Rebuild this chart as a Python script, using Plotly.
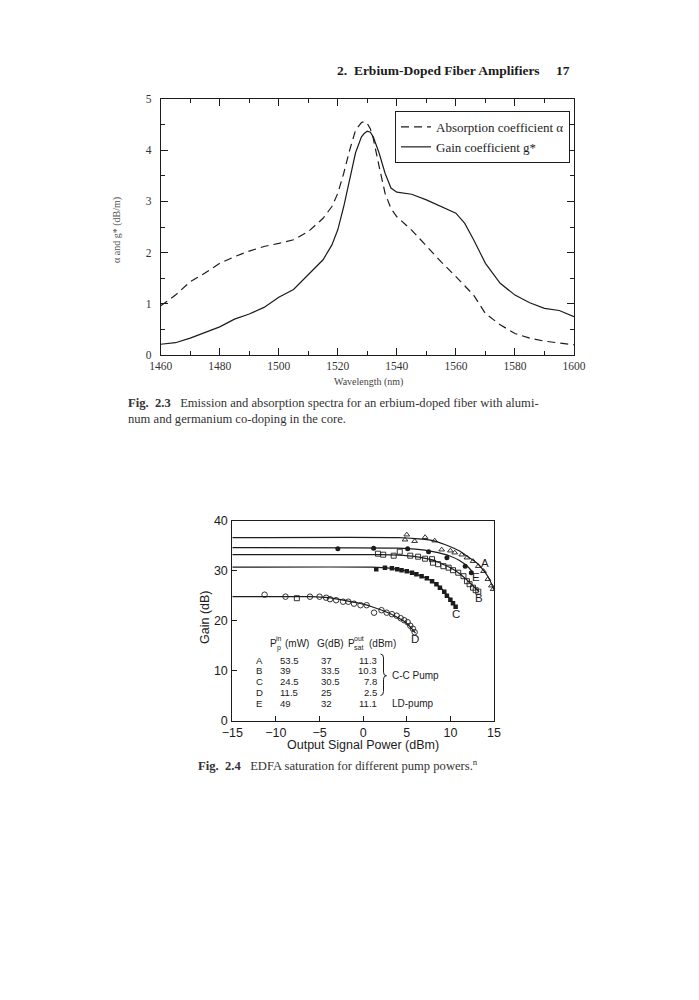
import plotly.graph_objects as go

# The page body adds an 8 px margin, so the figure is drawn 8 px smaller and all
# layout positions (measured on the reference page) are shifted by that offset.
OFF = 8
W, H = 699 - OFF, 1000 - OFF

# ---------------- Fig 2.3 data ----------------
wavelength = [1460, 1465, 1470, 1475, 1480, 1485, 1490, 1495, 1500, 1505, 1510, 1515, 1518,
              1520, 1522, 1524, 1526, 1528, 1529, 1530, 1531, 1532, 1534, 1536, 1538, 1540,
              1545, 1550, 1555, 1560, 1563, 1566, 1570, 1575, 1580, 1585, 1590, 1595, 1600]
gain_coeff = [0.21, 0.24, 0.33, 0.44, 0.55, 0.70, 0.80, 0.93, 1.13, 1.28, 1.56, 1.86, 2.15,
              2.45, 2.90, 3.45, 3.95, 4.26, 4.33, 4.37, 4.35, 4.26, 3.94, 3.55, 3.26, 3.18,
              3.14, 3.03, 2.90, 2.77, 2.57, 2.25, 1.79, 1.40, 1.17, 1.02, 0.91, 0.87, 0.75]
absorption_coeff = [0.96, 1.17, 1.43, 1.60, 1.79, 1.92, 2.03, 2.12, 2.18, 2.25, 2.41, 2.67, 2.90,
                    3.16, 3.55, 4.00, 4.39, 4.54, 4.56, 4.52, 4.42, 4.23, 3.68, 3.16, 2.86, 2.70,
                    2.44, 2.12, 1.82, 1.53, 1.35, 1.17, 0.81, 0.59, 0.42, 0.33, 0.27, 0.23, 0.20]

# ---------------- Fig 2.4 data ----------------
# fitted curves
A_x = [-15, 4, 6, 8, 10, 11, 12, 13, 14, 14.5, 15]
A_y = [36.6, 36.6, 36.4, 36.0, 34.8, 34.0, 32.8, 31.6, 29.6, 28.2, 26.2]
E_x = [-15, 4, 6, 8, 10, 11, 12, 12.6]
E_y = [34.6, 34.5, 34.3, 33.8, 32.9, 32.1, 30.8, 29.6]
B_x = [-15, 2, 4, 6, 8, 9, 10, 11, 12, 12.7, 13.3]
B_y = [33.2, 33.2, 33.1, 32.8, 32.1, 31.4, 30.6, 29.5, 28.0, 26.8, 25.8]
C_x = [-15, 1, 3, 5, 6, 7, 8, 9, 10, 10.7]
C_y = [30.7, 30.7, 30.5, 29.9, 29.3, 28.7, 27.8, 26.4, 24.3, 22.6]
D_x = [-15, -6, -4, -2, 0, 1, 2, 3, 4, 5, 6]
D_y = [24.8, 24.8, 24.6, 24.0, 23.3, 22.8, 22.2, 21.5, 20.6, 19.5, 17.5]

# measured points
A_px = [5.0, 4.8, 5.9, 7.1, 8.2, 9.0, 10.0, 10.5, 11.3, 11.9, 12.6, 13.2, 13.8, 14.3, 14.7, 14.9]
A_py = [37.2, 36.2, 35.9, 36.7, 36.0, 34.2, 34.0, 33.6, 33.2, 32.6, 31.9, 30.9, 29.9, 28.3, 27.0, 26.3]
E_px = [-2.9, 1.2, 5.1, 7.5, 9.6, 11.7, 12.4]
E_py = [34.4, 34.5, 34.4, 33.8, 32.6, 30.9, 29.6]
B_px = [1.7, 2.3, 3.5, 4.2, 5.4, 6.3, 7.1, 7.9, 8.0, 8.6, 9.2, 9.8, 10.3, 10.9, 11.5, 11.9, 12.2, 12.6, 12.9, 13.2]
B_py = [33.4, 33.2, 33.0, 33.8, 33.0, 32.8, 32.4, 32.3, 31.6, 31.3, 30.9, 30.6, 30.1, 29.6, 28.9, 27.9, 27.3, 26.6, 26.1, 25.8]
C_px = [1.5, 2.5, 3.3, 3.9, 4.4, 5.0, 5.6, 6.1, 6.7, 7.3, 7.9, 8.4, 8.8, 9.3, 9.6, 10.0, 10.3, 10.6]
C_py = [30.3, 30.6, 30.5, 30.3, 30.1, 29.9, 29.6, 29.3, 28.9, 28.5, 27.9, 27.3, 26.6, 25.8, 25.0, 24.2, 23.5, 22.8]
D_px = [-11.3, -8.9, -6.1, -5.0, -4.25, -3.8, -3.1, -2.3, -1.7, -1.05, -0.3, 0.4, 1.25, 2.1, 2.7, 3.3, 3.85, 4.3, 4.7, 5.1, 5.4, 5.7, 5.9]
D_py = [25.2, 24.8, 24.8, 24.8, 24.6, 24.3, 24.1, 23.8, 23.8, 23.4, 23.1, 23.1, 21.6, 22.1, 21.6, 21.3, 21.0, 20.5, 20.1, 19.7, 19.0, 18.4, 17.7]
Dsq_px = [-7.6]
Dsq_py = [24.5]

table_letters = ["A", "B", "C", "D", "E"]
table_pump = ["53.5", "39", "24.5", "11.5", "49"]
table_gain = ["37", "33.5", "30.5", "25", "32"]
table_psat = ["11.3", "10.3", "7.8", "2.5", "11.1"]

INK = "#1c1c1c"
SERIF = "Liberation Serif"
SANS = "Liberation Sans"


def px(x):
    return (x - OFF) / W


def py(y):
    return 1 - (y - OFF) / H


fig = go.Figure()

# ---- Fig 2.3 traces ----
fig.add_trace(go.Scatter(x=wavelength, y=absorption_coeff, mode="lines",
                         name="Absorption coefficient \u03b1",
                         line=dict(color=INK, width=1.2, dash="8px,5px"),
                         xaxis="x", yaxis="y"))
fig.add_trace(go.Scatter(x=wavelength, y=gain_coeff, mode="lines",
                         name="Gain coefficient g*",
                         line=dict(color=INK, width=1.2),
                         xaxis="x", yaxis="y"))

# ---- Fig 2.4 traces ----
for xs, ys in [(A_x, A_y), (E_x, E_y), (B_x, B_y), (C_x, C_y), (D_x, D_y)]:
    fig.add_trace(go.Scatter(x=xs, y=ys, mode="lines",
                             line=dict(color=INK, width=1.2, shape="spline", smoothing=0.6),
                             showlegend=False, xaxis="x2", yaxis="y2", hoverinfo="skip"))

fig.add_trace(go.Scatter(x=A_px, y=A_py, mode="markers", showlegend=False, xaxis="x2", yaxis="y2",
                         marker=dict(symbol="triangle-up-open", size=5, color=INK, line=dict(color=INK, width=0.9))))
fig.add_trace(go.Scatter(x=E_px, y=E_py, mode="markers", showlegend=False, xaxis="x2", yaxis="y2",
                         marker=dict(symbol="circle", size=5, color=INK)))
fig.add_trace(go.Scatter(x=B_px, y=B_py, mode="markers", showlegend=False, xaxis="x2", yaxis="y2",
                         marker=dict(symbol="square-open", size=5, color=INK, line=dict(color=INK, width=0.9))))
fig.add_trace(go.Scatter(x=C_px, y=C_py, mode="markers", showlegend=False, xaxis="x2", yaxis="y2",
                         marker=dict(symbol="square", size=4.5, color=INK)))
fig.add_trace(go.Scatter(x=D_px, y=D_py, mode="markers", showlegend=False, xaxis="x2", yaxis="y2",
                         marker=dict(symbol="circle-open", size=5.5, color=INK, line=dict(color=INK, width=0.9))))
fig.add_trace(go.Scatter(x=Dsq_px, y=Dsq_py, mode="markers", showlegend=False, xaxis="x2", yaxis="y2",
                         marker=dict(symbol="square-open", size=5, color=INK, line=dict(color=INK, width=0.9))))

ax1_common = dict(showline=True, linecolor=INK, linewidth=1, mirror="ticks", ticks="inside",
                  tickcolor=INK, showgrid=False, zeroline=False, automargin=False,
                  tickfont=dict(family=SERIF, size=11.5, color="#333"))
ax2_common = dict(showline=True, linecolor=INK, linewidth=1, mirror=True, ticks="inside",
                  tickcolor=INK, ticklen=5, showgrid=False, zeroline=False, automargin=False,
                  tickfont=dict(family=SANS, size=12.5, color=INK))

fig.update_layout(
    template="none",
    width=W, height=H, margin=dict(l=0, r=0, t=0, b=0, pad=0),
    paper_bgcolor="white", plot_bgcolor="white",
    xaxis=dict(domain=[px(160.7), px(574)], range=[1460, 1600], anchor="y",
               tick0=1460, dtick=20, ticklen=7,
               minor=dict(ticks="inside", dtick=10, ticklen=4, tickcolor=INK), **ax1_common),
    yaxis=dict(domain=[py(355), py(99)], range=[0, 5], anchor="x",
               tick0=0, dtick=1, ticklen=7, ticklabelstandoff=6,
               minor=dict(ticks="inside", dtick=0.5, ticklen=4, tickcolor=INK), **ax1_common),
    xaxis2=dict(domain=[px(232.3), px(494)], range=[-15, 15], anchor="y2",
                tick0=-15, dtick=5, ticklabelstandoff=0, **ax2_common),
    yaxis2=dict(domain=[py(720.7), py(520.7)], range=[0, 40], anchor="x2",
                tick0=0, dtick=10, ticklabelstandoff=1, **ax2_common),
    legend=dict(x=px(395), y=py(111), xanchor="left", yanchor="top",
                bordercolor=INK, borderwidth=1, bgcolor="white",
                font=dict(family=SERIF, size=13, color=INK),
                itemwidth=30, tracegroupgap=0),
    showlegend=True,
)

ann = []


def text(x, y, s, size, family=SERIF, xanchor="left", color=INK, angle=0, xref="paper", yref="paper"):
    ann.append(dict(x=x, y=y, xref=xref, yref=yref, text=s, showarrow=False,
                    xanchor=xanchor, yanchor="middle", textangle=angle,
                    font=dict(family=family, size=size, color=color)))


# header
text(px(335), py(71), "<b>2.  Erbium-Doped Fiber Amplifiers</b>", 13.5)
text(px(572), py(71), "<b>17</b>", 13.5, xanchor="right")

# Fig 2.3 axis titles
text(px(368), py(382), "Wavelength (nm)", 10, xanchor="center", color="#444")
text(px(117), py(230), "\u03b1 and g* (dB/m)", 10, xanchor="center", color="#555", angle=-90)

# captions
text(px(126), py(403), "<b>Fig.  2.3</b>   Emission and absorption spectra for an erbium-doped fiber with alumi-", 12.6, color="#333")
text(px(126), py(419), "num and germanium co-doping in the core.", 12.6, color="#333")
text(px(196), py(765), "<b>Fig.  2.4</b>   EDFA saturation for different pump powers.<sup>n</sup>", 12.6, color="#333")

# Fig 2.4 axis titles
text(px(363), py(745), "Output Signal Power (dBm)", 12.5, family=SANS, xanchor="center")
text(px(205), py(617), "Gain (dB)", 12.5, family=SANS, xanchor="center", angle=-90)

# curve labels
for lab, lx, ly in [("A", 13.97, 31.5), ("E", 12.93, 28.8), ("B", 13.27, 24.5), ("C", 10.6, 21.3), ("D", 5.9, 16.3)]:
    text(lx, ly, lab, 11.5, family=SANS, xanchor="center", xref="x2", yref="y2")


# table inside Fig 2.4 (positions given in page pixels, converted to data units)
def dx(p):
    return -15 + (p - 232.3) / 8.723


def dy(p):
    return (720.7 - p) / 5.0


TF = 9.6
row_y = [660, 670.5, 681, 692, 703]
for i in range(5):
    text(dx(254), dy(row_y[i]), table_letters[i], TF, family=SANS, xref="x2", yref="y2")
    text(dx(278), dy(row_y[i]), table_pump[i], TF, family=SANS, xref="x2", yref="y2")
    text(dx(319), dy(row_y[i]), table_gain[i], TF, family=SANS, xref="x2", yref="y2")
    text(dx(378.5), dy(row_y[i]), table_psat[i], TF, family=SANS, xanchor="right", xref="x2", yref="y2")

# header of table
text(dx(268), dy(643), "P", 10, family=SANS, xref="x2", yref="y2")
text(dx(274), dy(638.5), "in", 7, family=SANS, xref="x2", yref="y2")
text(dx(274.5), dy(647.5), "p", 7, family=SANS, xref="x2", yref="y2")
text(dx(283), dy(643), "(mW)", 10, family=SANS, xref="x2", yref="y2")
text(dx(315), dy(643), "G(dB)", 10, family=SANS, xref="x2", yref="y2")
text(dx(345.5), dy(643), "P", 10, family=SANS, xref="x2", yref="y2")
text(dx(351.5), dy(638.5), "out", 7, family=SANS, xref="x2", yref="y2")
text(dx(351.5), dy(647.5), "sat", 7, family=SANS, xref="x2", yref="y2")
text(dx(366.5), dy(643), "(dBm)", 10, family=SANS, xref="x2", yref="y2")
text(dx(390), dy(675.7), "C-C Pump", 10, family=SANS, xref="x2", yref="y2")
text(dx(390), dy(703), "LD-pump", 10, family=SANS, xref="x2", yref="y2")

fig.update_layout(annotations=ann)

# brace grouping rows A-D
bx0, bx1, bx2 = dx(380.5), dx(383.5), dx(386.5)
yt, ym, yb = dy(654), dy(675.7), dy(695.5)
brace = (f"M {bx0},{yt} Q {bx1},{yt} {bx1},{yt - 0.8} L {bx1},{ym + 0.7} "
         f"Q {bx1},{ym} {bx2},{ym} Q {bx1},{ym} {bx1},{ym - 0.7} L {bx1},{yb + 0.8} "
         f"Q {bx1},{yb} {bx0},{yb}")
fig.add_shape(type="path", path=brace, xref="x2", yref="y2", line=dict(color=INK, width=1))

fig.write_html("out.html")
